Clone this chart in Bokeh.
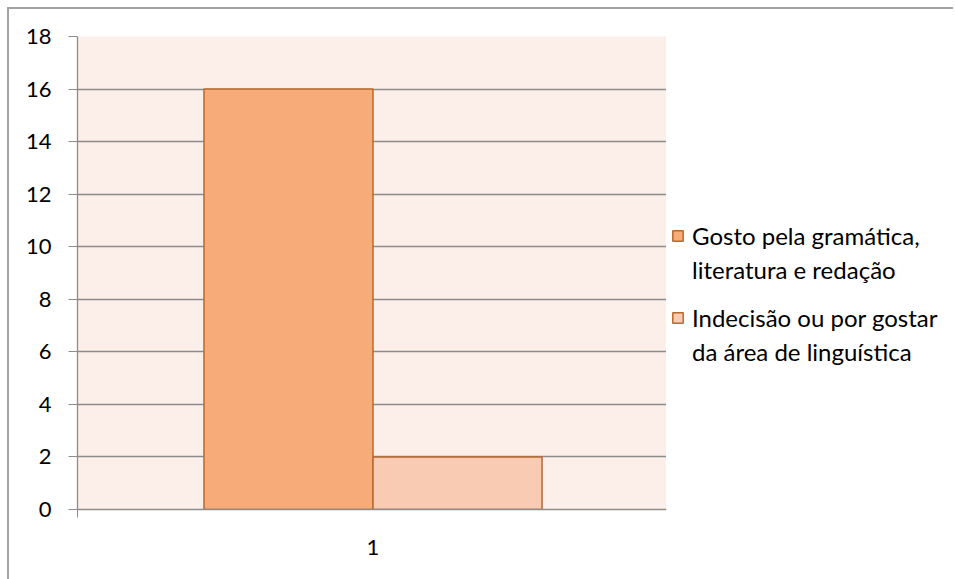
from bokeh.plotting import figure
from bokeh.layouts import row
from bokeh.models import (ColumnDataSource, FixedTicker, Legend, LegendItem,
                          Range1d)
from bokeh.transform import dodge
from bokeh.embed import file_html
from bokeh.resources import INLINE

# Data
categories = ["1"]
series_lines = [["Gosto pela gramática,", "literatura e redação"],
                ["Indecisão ou por gostar", "da área de linguística"]]
gosto = [16]
indecisao = [2]
y_ticks = [0, 2, 4, 6, 8, 10, 12, 14, 16, 18]

FONT = "Lato"
FS = "22px"
FILLS = ["#F7AB78", "#F9CBB3"]
EDGE = "#B8692C"
GRID = "#8C8C8C"
BORDER = "2px solid #a3a3a3"

positions = [i + 1 for i in range(len(categories))]
source = ColumnDataSource(dict(x=positions, gosto=gosto, indecisao=indecisao))

# ---- main chart -------------------------------------------------------
p = figure(width=659, height=572, output_backend="svg", toolbar_location=None,
           x_range=Range1d(0.5, len(categories) + 0.5), y_range=Range1d(0, 18),
           min_border_left=68, min_border_right=0, min_border_top=27,
           min_border_bottom=72, margin=(7, 0, 0, 7))
p.styles = {"border-top": BORDER, "border-left": BORDER}
p.background_fill_color = "#FCEEE9"
p.border_fill_color = "white"
p.outline_line_color = None

bw = 0.286
p.vbar(x=dodge("x", -bw / 2, range=p.x_range), top="gosto", width=bw,
       source=source, fill_color=FILLS[0], line_color=EDGE, line_width=1.5)
p.vbar(x=dodge("x", bw / 2, range=p.x_range), top="indecisao", width=bw,
       source=source, fill_color=FILLS[1], line_color=EDGE, line_width=1.5)

p.xgrid.visible = False
p.ygrid.ticker = FixedTicker(ticks=y_ticks)
p.ygrid.grid_line_color = GRID
p.ygrid.grid_line_width = 1.3

p.yaxis.ticker = FixedTicker(ticks=y_ticks)
p.yaxis.axis_line_color = GRID
p.yaxis.axis_line_width = 1.3
p.yaxis.major_tick_line_color = GRID
p.yaxis.major_tick_in = 0
p.yaxis.major_tick_out = 9
p.yaxis.minor_tick_line_color = None
p.yaxis.major_label_standoff = 17
p.yaxis.major_label_text_font = FONT
p.yaxis.major_label_text_font_size = FS
p.yaxis.major_label_text_color = "black"

p.xaxis.ticker = FixedTicker(ticks=positions, minor_ticks=[0.5, 1.5])
p.xaxis.major_label_overrides = {x: c for x, c in zip(positions, categories)}
p.xaxis.axis_line_color = GRID
p.xaxis.axis_line_width = 1.3
p.xaxis.major_tick_line_color = None
p.xaxis.minor_tick_line_color = GRID
p.xaxis.minor_tick_in = 0
p.xaxis.minor_tick_out = 8
p.xaxis.major_label_standoff = 22
p.xaxis.major_label_text_font = FONT
p.xaxis.major_label_text_font_size = FS
p.xaxis.major_label_text_color = "black"

# ---- legend panel -----------------------------------------------------
lp = figure(width=287, height=572, output_backend="svg", toolbar_location=None,
            x_range=Range1d(0, 1), y_range=Range1d(0, 1),
            x_axis_location=None, y_axis_location=None,
            min_border=0, margin=(7, 0, 0, 0))
lp.styles = {"border-top": BORDER}
lp.grid.visible = False
lp.outline_line_color = None
lp.background_fill_color = "white"
lp.border_fill_color = "white"

# legend swatches: off-range proxies carrying only the series styles
ghost = lp.vbar(x=-1, top=0, width=0, fill_alpha=0, line_alpha=0)

legend_y = [224, 142]
for lines, fill, ly in zip(series_lines, FILLS, legend_y):
    proxy = lp.vbar(x=-1, top=0, width=0,
                    fill_color=fill, line_color=EDGE, line_width=1.5)
    lg = Legend(items=[LegendItem(label=lines[0], renderers=[proxy]),
                       LegendItem(label=lines[1], renderers=[ghost])],
                location=(5, ly), orientation="vertical")
    lg.label_text_font = FONT
    lg.label_text_font_size = "24px"
    lg.label_text_color = "black"
    lg.label_height = 31
    lg.glyph_width = 13
    lg.glyph_height = 13
    lg.label_standoff = 8
    lg.spacing = 3
    lg.padding = 0
    lg.margin = 0
    lg.border_line_color = None
    lg.background_fill_alpha = 0
    lp.add_layout(lg, "center")

layout = row(p, lp, spacing=0)
open("out.html", "w").write(file_html(layout, INLINE))
